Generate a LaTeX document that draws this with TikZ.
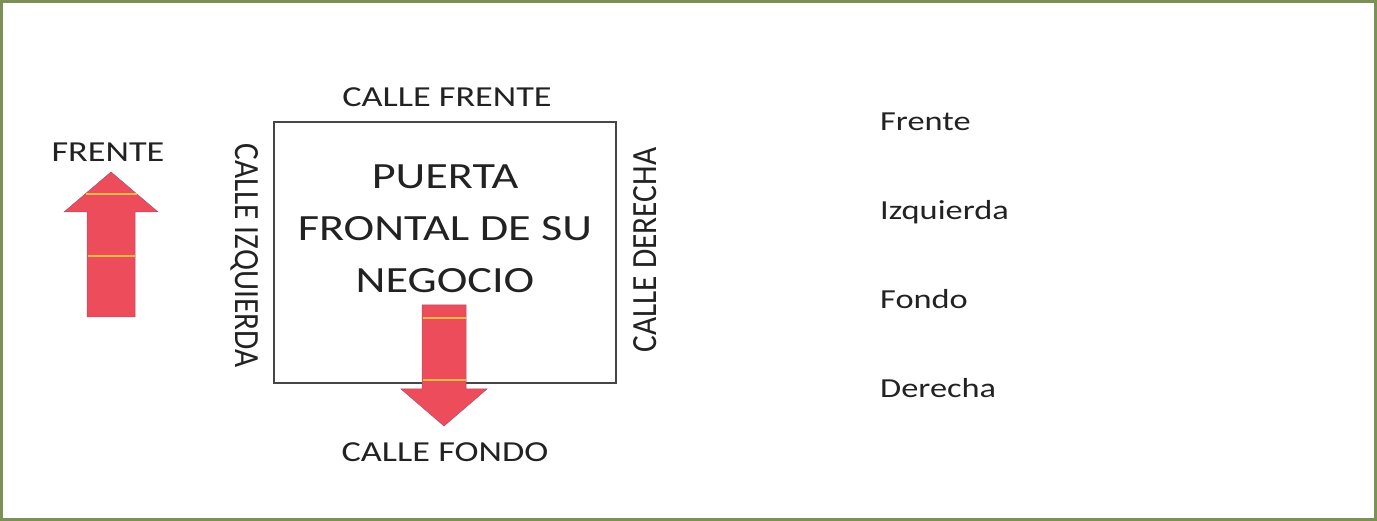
\documentclass[tikz,border=0pt]{standalone}
\usepackage{fontspec}
\usepackage{graphicx}
\setmainfont{Carlito}
\definecolor{framegreen}{RGB}{122,144,84}
\definecolor{txtgray}{RGB}{34,34,34}
\definecolor{arrowred}{RGB}{237,76,90}
\definecolor{stripe}{RGB}{246,186,66}
\definecolor{boxgray}{RGB}{70,70,70}
\newcommand{\wtxt}[1]{\scalebox{1.25}[1]{#1}}
\newcommand{\htxt}[1]{\scalebox{1.08}[1.22]{#1}}
\begin{document}
\begin{tikzpicture}[x=1pt,y=-1pt,
  lbl/.style={inner sep=0pt, text=txtgray},
  calle/.style={lbl, font=\fontsize{29}{34}\selectfont},
  listtxt/.style={lbl, font=\fontsize{27.5}{32}\selectfont, anchor=base west},
  bigtxt/.style={lbl, font=\fontsize{37}{52}\selectfont, align=center},
  redarrow/.style={fill=arrowred, draw={rgb,255:red,170;green,80;blue,120}, line width=0.5pt},
  stripeline/.style={draw=stripe, line width=2.5pt},
  bizbox/.style={draw=boxgray, line width=1.3pt, minimum width=342pt, minimum height=261pt, inner sep=0pt}
]
\useasboundingbox (0,0) rectangle (1377,521);
\draw[draw=framegreen, line width=3pt] (1.5,1.5) rectangle (1375.5,519.5);

% business box
\node[bizbox] (biz) at (445,252.5) {};

% text around the box
\node[calle, anchor=base] (cfrente) at (447,106.7) {\wtxt{CALLE FRENTE}};
\node[calle, anchor=base] (cfondo) at (445,461) {\wtxt{CALLE FONDO}};
\node[calle, rotate=-90] (cizq) at (245,255.5) {\htxt{CALLE IZQUIERDA}};
\node[calle, rotate=90] (cder) at (645,250) {\htxt{CALLE DERECHA}};
\node[bigtxt] (door) at (445,229) {\wtxt{PUERTA}\\\wtxt{FRONTAL DE SU}\\\wtxt{NEGOCIO}};

% up arrow (frente)
\node[calle, anchor=base] (frente) at (108,161.7) {\wtxt{FRENTE}};
\path[redarrow] (87,317) -- (87,212) -- (64,212) -- (111,172) -- (158,212) -- (135,212) -- (135,317) -- cycle;
\draw[stripeline] (85.5,194) -- (136.5,194);
\draw[stripeline] (87.5,256) -- (134.5,256);

% down arrow
\path[redarrow] (422,305) -- (466,305) -- (466,389) -- (487,389) -- (444,426) -- (401,389) -- (422,389) -- cycle;
\draw[stripeline] (422.5,318) -- (465.5,318);
\draw[stripeline] (422.5,380) -- (465.5,380);

% list
\node[listtxt] (lfrente) at (880,131) {\wtxt{Frente}};
\node[listtxt] (lizq) at (880,220) {\wtxt{Izquierda}};
\node[listtxt] (lfondo) at (880,309) {\wtxt{Fondo}};
\node[listtxt] (lder) at (880,398) {\wtxt{Derecha}};
\end{tikzpicture}
\end{document}
